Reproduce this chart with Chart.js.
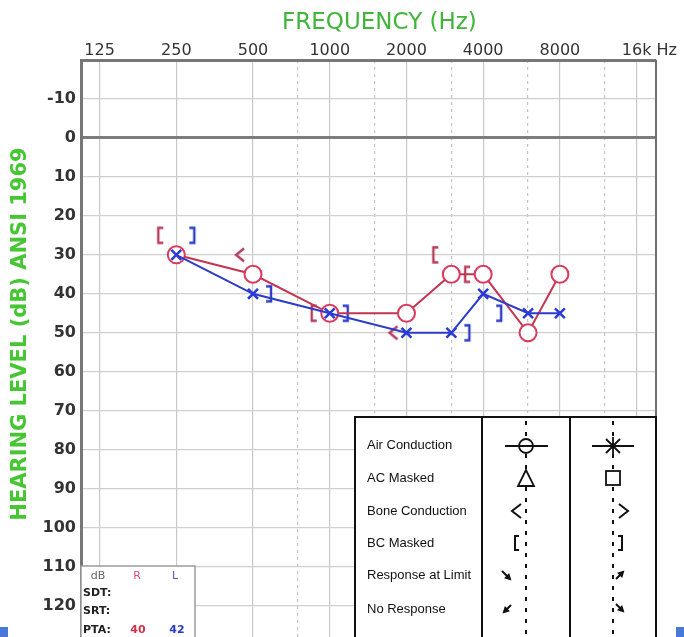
<!DOCTYPE html>
<html>
<head>
<meta charset="utf-8">
<title>Audiogram</title>
<script src="https://cdn.jsdelivr.net/npm/chart.js@4.4.1/dist/chart.umd.min.js"></script>
<style>
  html, body { margin: 0; padding: 0; background: #fff; overflow: hidden; }
</style>
</head>
<body>
<canvas id="audiogram" width="684" height="655"></canvas>
<script>
// ---- data ----
const freqs = [250, 500, 1000, 2000, 3000, 4000, 6000, 8000];
const rightAir = [30, 35, 45, 45, 35, 35, 50, 35];
const leftAir = [30, 40, 45, 50, 50, 40, 45, 45];

const rightBoneFreqs = [500, 2000];
const rightBone = [30, 50];
const rightBoneMaskedFreqs = [250, 1000, 3000, 4000];
const rightBoneMasked = [25, 45, 30, 35];
const leftBoneMaskedFreqs = [250, 500, 1000, 3000, 4000];
const leftBoneMasked = [25, 40, 45, 50, 45];

const octaveTicks = [125, 250, 500, 1000, 2000, 4000, 8000, 16000];
const octaveLabels = ['125', '250', '500', '1000', '2000', '4000', '8000', '     16k Hz'];
const midTicks = [750, 1500, 3000, 6000, 12000];

const legendRows = ['Air Conduction', 'AC Masked', 'Bone Conduction', 'BC Masked', 'Response at Limit', 'No Response'];
const ptaRight = 40;
const ptaLeft = 42;

const RED = '#c2344f';
const RED_MARK = '#d93a5e';
const RED_BC = '#b53d5c';
const BLUE = '#2d3cc8';
const BLUE_MARK = '#2a3ad6';
const GREEN = '#45c632';
const FONT = '"DejaVu Sans", sans-serif';

const pts = (xs, ys) => xs.map((x, i) => ({ x, y: ys[i] }));

// small canvases used as point styles for bone conduction symbols
function mark(kind, color, dx) {
  const c = document.createElement('canvas');
  c.width = 48; c.height = 24;
  const g = c.getContext('2d');
  g.strokeStyle = color;
  g.lineWidth = 2.4;
  const x = 24 + dx, y = 12, h = 7.5;
  g.beginPath();
  if (kind === '[') { g.moveTo(x + 3, y - h); g.lineTo(x - 2, y - h); g.lineTo(x - 2, y + h); g.lineTo(x + 3, y + h); }
  if (kind === ']') { g.moveTo(x - 3, y - h); g.lineTo(x + 2, y - h); g.lineTo(x + 2, y + h); g.lineTo(x - 3, y + h); }
  if (kind === '<') { g.moveTo(x + 4, y - 6.5); g.lineTo(x - 4, y); g.lineTo(x + 4, y + 6.5); }
  g.stroke();
  return c;
}

function arrow(g, x1, y1, x2, y2) {
  g.beginPath(); g.moveTo(x1, y1); g.lineTo(x2, y2); g.stroke();
  const a = Math.atan2(y2 - y1, x2 - x1);
  g.beginPath();
  g.moveTo(x2 + Math.cos(a) * 2, y2 + Math.sin(a) * 2);
  g.lineTo(x2 + Math.cos(a + 2.5) * 6, y2 + Math.sin(a + 2.5) * 6);
  g.lineTo(x2 + Math.cos(a - 2.5) * 6, y2 + Math.sin(a - 2.5) * 6);
  g.closePath(); g.fill();
}

const framePlugin = {
  id: 'frame',
  beforeDatasetsDraw(chart) {
    const { ctx, chartArea: a } = chart;
    ctx.save();
    ctx.strokeStyle = '#6f6f6f';
    ctx.lineWidth = 2;
    ctx.beginPath();
    ctx.moveTo(a.right, a.top); ctx.lineTo(a.right, a.bottom);
    ctx.stroke();
    ctx.restore();
  },
  afterDraw(chart) {
    const g = chart.ctx;
    g.save();

    // symbol key table
    g.fillStyle = '#fff';
    g.fillRect(355, 417, 301, 240);
    g.strokeStyle = '#111';
    g.lineWidth = 2;
    g.strokeRect(355, 417, 301, 240);
    g.beginPath();
    g.moveTo(482, 417); g.lineTo(482, 660);
    g.moveTo(570, 417); g.lineTo(570, 660);
    g.stroke();

    g.setLineDash([4, 7]);
    g.lineWidth = 2;
    g.beginPath();
    g.moveTo(526, 421); g.lineTo(526, 660);
    g.moveTo(613, 421); g.lineTo(613, 660);
    g.stroke();
    g.setLineDash([]);

    g.fillStyle = '#111';
    g.font = '13px "Liberation Sans", Arial, sans-serif';
    g.textBaseline = 'middle';
    g.textAlign = 'left';
    const rowY = [445, 478, 511, 543, 575, 609];
    legendRows.forEach((t, i) => g.fillText(t, 367, rowY[i]));

    g.strokeStyle = '#111';
    g.lineWidth = 1.8;
    // air conduction
    g.fillStyle = '#fff';
    g.beginPath(); g.arc(526, 446, 7, 0, Math.PI * 2); g.fill(); g.stroke();
    g.beginPath(); g.moveTo(505, 446); g.lineTo(548, 446); g.stroke();
    g.beginPath();
    g.moveTo(592, 446); g.lineTo(634, 446);
    g.moveTo(606, 439); g.lineTo(620, 453);
    g.moveTo(620, 439); g.lineTo(606, 453);
    g.moveTo(613, 437); g.lineTo(613, 455);
    g.stroke();
    // AC masked
    g.beginPath(); g.moveTo(526, 470); g.lineTo(518, 486); g.lineTo(534, 486); g.closePath(); g.fill(); g.stroke();
    g.fillRect(606, 471, 14, 14); g.strokeRect(606, 471, 14, 14);
    // bone conduction
    g.lineWidth = 2;
    g.beginPath();
    g.moveTo(521, 504); g.lineTo(512, 511); g.lineTo(521, 518);
    g.moveTo(619, 504); g.lineTo(628, 511); g.lineTo(619, 518);
    g.stroke();
    // BC masked
    g.beginPath();
    g.moveTo(519, 536); g.lineTo(515, 536); g.lineTo(515, 550); g.lineTo(519, 550);
    g.moveTo(618, 536); g.lineTo(622, 536); g.lineTo(622, 550); g.lineTo(618, 550);
    g.stroke();
    // limit / no response arrows
    g.fillStyle = '#111';
    arrow(g, 502, 571, 510, 579);
    arrow(g, 616, 579, 623, 572);
    arrow(g, 511, 605, 504, 612);
    arrow(g, 616, 604, 623, 611);

    // speech / PTA box
    g.fillStyle = '#fff';
    g.fillRect(81, 566, 114, 90);
    g.strokeStyle = '#9a9a9a';
    g.lineWidth = 1.5;
    g.strokeRect(81, 566, 114, 90);
    g.textAlign = 'center';
    g.font = '11px ' + FONT;
    g.fillStyle = '#666'; g.fillText('dB', 98, 576);
    g.fillStyle = '#d0508a'; g.fillText('R', 137, 576);
    g.fillStyle = '#5a5ab0'; g.fillText('L', 175, 576);
    g.textAlign = 'left';
    g.font = 'bold 11px ' + FONT;
    g.fillStyle = '#222';
    g.fillText('SDT:', 83, 593);
    g.fillText('SRT:', 83, 611);
    g.fillText('PTA:', 83, 630);
    g.textAlign = 'center';
    g.fillStyle = '#d0304a'; g.fillText(String(ptaRight), 138, 630);
    g.fillStyle = '#2a3ac8'; g.fillText(String(ptaLeft), 177, 630);

    // slide background corners
    g.fillStyle = '#4a78d8';
    g.fillRect(0, 627, 8, 10);
    g.fillRect(676, 627, 8, 10);
    g.restore();
  }
};

new Chart(document.getElementById('audiogram'), {
  type: 'scatter',
  data: {
    datasets: [
      {
        label: 'Left AC',
        data: pts(freqs, leftAir),
        showLine: true,
        borderColor: BLUE,
        borderWidth: 2,
        pointStyle: 'crossRot',
        pointRadius: 7,
        pointBorderWidth: 2.5,
        pointBorderColor: BLUE_MARK,
        order: 0
      },
      {
        label: 'Right AC',
        data: pts(freqs, rightAir),
        showLine: true,
        borderColor: RED,
        borderWidth: 2,
        pointStyle: 'circle',
        pointRadius: 8.5,
        pointBorderWidth: 2,
        pointBorderColor: RED_MARK,
        pointBackgroundColor: '#fff',
        order: 1
      },
      {
        label: 'Right BC masked',
        data: pts(rightBoneMaskedFreqs, rightBoneMasked),
        showLine: false,
        pointStyle: mark('[', RED_BC, -16),
        pointRadius: 5,
        order: 2
      },
      {
        label: 'Right BC',
        data: pts(rightBoneFreqs, rightBone),
        showLine: false,
        pointStyle: mark('<', RED_BC, -13),
        pointRadius: 5,
        order: 2
      },
      {
        label: 'Left BC masked',
        data: pts(leftBoneMaskedFreqs, leftBoneMasked),
        showLine: false,
        pointStyle: mark(']', BLUE, 16),
        pointRadius: 5,
        order: 2
      }
    ]
  },
  options: {
    responsive: false,
    animation: false,
    layout: { padding: { left: 0, top: 0, right: 28, bottom: 1 } },
    plugins: {
      legend: { display: false },
      tooltip: { enabled: false }
    },
    scales: {
      x: {
        type: 'logarithmic',
        position: 'top',
        min: 105.7,
        max: 19060,
        afterBuildTicks: (s) => { s.ticks = octaveTicks.map(v => ({ value: v })); },
        afterFit: (s) => { s.height = 60; s.paddingLeft = 0; s.paddingRight = 0; },
        ticks: {
          autoSkip: false,
          maxRotation: 0,
          padding: 0,
          color: '#333',
          font: { family: FONT, size: 16 },
          callback: (v) => {
            const i = octaveTicks.indexOf(v);
            return i < 0 ? '' : octaveLabels[i];
          }
        },
        grid: { color: '#c9c9c9', lineWidth: 1.2, drawTicks: false },
        border: { color: '#777', width: 3 },
        title: {
          display: true,
          text: '   FREQUENCY (Hz)',
          color: '#3fb53a',
          font: { family: FONT, size: 23 },
          padding: { top: 9, bottom: 0 }
        }
      },
      x2: {
        type: 'logarithmic',
        position: 'bottom',
        min: 105.7,
        max: 19060,
        afterBuildTicks: (s) => { s.ticks = midTicks.map(v => ({ value: v })); },
        afterFit: (s) => { s.height = 0; s.paddingLeft = 0; s.paddingRight = 0; },
        ticks: { display: false },
        grid: { color: '#c4c4c4', lineWidth: 1.2, drawTicks: false },
        border: { display: false, dash: [3, 4] }
      },
      y: {
        type: 'linear',
        reverse: true,
        min: -20,
        max: 130,
        afterFit: (s) => { s.width = 81; s.paddingTop = 0; s.paddingBottom = 0; },
        ticks: {
          stepSize: 10,
          padding: 5,
          color: '#333',
          font: { family: FONT, size: 16, weight: 'bold' },
          callback: (v) => (v === -20 || v === 130) ? '' : v
        },
        grid: {
          drawTicks: false,
          color: (c) => c.tick && c.tick.value === 0 ? '#7d7d7d' : '#d0d0d0',
          lineWidth: (c) => c.tick && c.tick.value === 0 ? 3 : 1.2
        },
        border: { color: '#777', width: 3 },
        title: {
          display: true,
          text: '     HEARING LEVEL (dB) ANSI 1969',
          color: GREEN,
          font: { family: FONT, size: 21, weight: 'bold' },
          padding: { top: 8, bottom: 0 }
        }
      }
    }
  },
  plugins: [framePlugin]
});
</script>
</body>
</html>
